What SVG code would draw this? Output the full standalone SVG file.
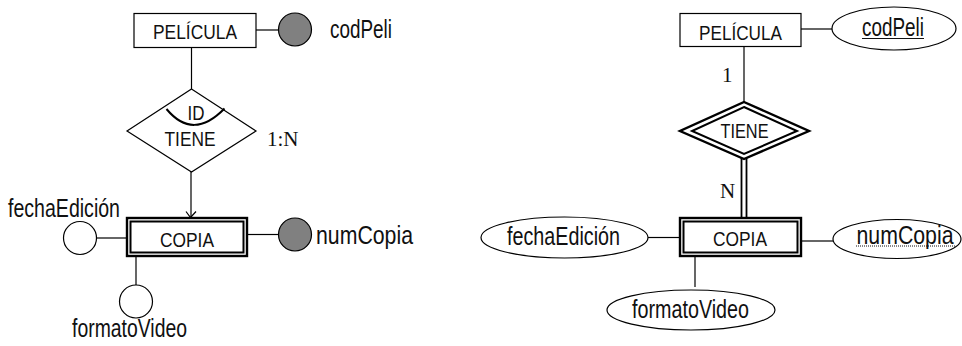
<svg xmlns="http://www.w3.org/2000/svg" width="962" height="346" viewBox="0 0 962 346">
  <style>
    .ln { stroke: #000; stroke-width: 1.2; fill: none; }
    .box { fill: #fff; stroke: #000; stroke-width: 1.2; }
    .wout { fill: #fff; stroke: #000; stroke-width: 2.4; }
    .win { fill: none; stroke: #000; stroke-width: 2; }
    .att { fill: #fff; stroke: #000; stroke-width: 1.2; }
    .key { fill: #808080; stroke: #000; stroke-width: 1.2; }
    .ent { font-family: "Liberation Sans Narrow", "Liberation Sans", Arial, sans-serif; font-size: 21px; fill: #111; }
    .lbl { font-family: "Liberation Sans Narrow", "Liberation Sans", Arial, sans-serif; font-size: 25px; fill: #111; }
    .card { font-family: "Liberation Serif", "Times New Roman", serif; font-size: 21px; fill: #111; }
    .mid { text-anchor: middle; }
  </style>

  <!-- ===== Left notation ===== -->
  <g id="connectors-left">
    <line class="ln" x1="256" y1="30" x2="278.5" y2="30"/>
    <line class="ln" x1="191.5" y1="47.5" x2="191.5" y2="89"/>
    <line class="ln" x1="191" y1="172" x2="191" y2="217"/>
    <polyline class="ln" points="186,211.5 190.5,217.5 196,211.5"/>
    <line class="ln" x1="96.5" y1="238" x2="126" y2="238"/>
    <line class="ln" x1="248" y1="234.5" x2="278.5" y2="234.5"/>
    <line class="ln" x1="136" y1="257" x2="136" y2="285"/>
  </g>

  <g id="pelicula-l">
    <rect class="box" x="134" y="13.5" width="122" height="34"/>
    <text class="ent mid" x="195" y="39" textLength="84" lengthAdjust="spacingAndGlyphs">PELÍCULA</text>
  </g>
  <g id="codpeli-l">
    <circle class="key" cx="295" cy="29.5" r="16.5"/>
    <text class="lbl" x="330" y="38" textLength="62" lengthAdjust="spacingAndGlyphs">codPeli</text>
  </g>
  <g id="tiene-l">
    <polygon class="box" points="191.5,89 256,131 191.5,172 127,131"/>
    <path d="M166.5,109 Q193,141 224.5,108.5" fill="none" stroke="#000" stroke-width="2"/>
    <text class="ent mid" x="196" y="120" textLength="17" lengthAdjust="spacingAndGlyphs">ID</text>
    <text class="ent mid" x="190" y="146" textLength="51" lengthAdjust="spacingAndGlyphs">TIENE</text>
    <text class="card" x="267" y="146">1:N</text>
  </g>
  <g id="copia-l">
    <rect class="wout" x="127" y="218" width="120" height="38"/>
    <rect class="win" x="130.5" y="221.5" width="113" height="31"/>
    <text class="ent mid" x="187" y="247" textLength="54" lengthAdjust="spacingAndGlyphs">COPIA</text>
  </g>
  <g id="fechaedicion-l">
    <circle class="att" cx="80" cy="238" r="16.5"/>
    <text class="lbl" x="8" y="217" textLength="112" lengthAdjust="spacingAndGlyphs">fechaEdición</text>
  </g>
  <g id="numcopia-l">
    <circle class="key" cx="295" cy="234.5" r="16.5"/>
    <text class="lbl" x="316" y="244" textLength="97" lengthAdjust="spacingAndGlyphs">numCopia</text>
  </g>
  <g id="formatovideo-l">
    <circle class="att" cx="136" cy="301.5" r="16.5"/>
    <text class="lbl" x="72" y="337" textLength="115" lengthAdjust="spacingAndGlyphs">formatoVideo</text>
  </g>

  <!-- ===== Right notation ===== -->
  <g id="connectors-right">
    <line class="ln" x1="801" y1="29" x2="832" y2="29"/>
    <line class="ln" x1="744" y1="46" x2="744" y2="102"/>
    <line x1="741.5" y1="157" x2="741.5" y2="217" stroke="#000" stroke-width="1.8"/>
    <line x1="746.5" y1="157" x2="746.5" y2="217" stroke="#000" stroke-width="1.8"/>
    <line class="ln" x1="648" y1="237.5" x2="679" y2="237.5"/>
    <line class="ln" x1="802" y1="241" x2="833" y2="241"/>
    <line class="ln" x1="695" y1="257" x2="695" y2="287"/>
  </g>

  <g id="pelicula-r">
    <rect class="box" x="680" y="13.5" width="121" height="33"/>
    <text class="ent mid" x="740.5" y="40" textLength="83" lengthAdjust="spacingAndGlyphs">PELÍCULA</text>
  </g>
  <g id="codpeli-r">
    <ellipse class="att" cx="894" cy="28.5" rx="62" ry="21.5"/>
    <text class="lbl mid" x="893" y="36" textLength="62" lengthAdjust="spacingAndGlyphs">codPeli</text>
    <line x1="862" y1="38.5" x2="924" y2="38.5" stroke="#111" stroke-width="1.2"/>
  </g>
  <g id="tiene-r">
    <polygon class="wout" points="744,102 809,131 744,159 680,131" stroke-width="2"/>
    <polygon class="win" points="744,107 797,131 744,154 692,131"/>
    <text class="ent mid" x="744.5" y="138" textLength="48" lengthAdjust="spacingAndGlyphs">TIENE</text>
    <text class="card" x="722" y="82">1</text>
    <text class="card" x="720" y="198">N</text>
  </g>
  <g id="copia-r">
    <rect class="wout" x="680" y="218" width="121" height="38"/>
    <rect class="win" x="683.5" y="221.5" width="114" height="31"/>
    <text class="ent mid" x="740" y="246" textLength="54" lengthAdjust="spacingAndGlyphs">COPIA</text>
  </g>
  <g id="fechaedicion-r">
    <ellipse class="att" cx="564.5" cy="237.5" rx="83.5" ry="20.5"/>
    <text class="lbl mid" x="563.5" y="245" textLength="113" lengthAdjust="spacingAndGlyphs">fechaEdición</text>
  </g>
  <g id="numcopia-r">
    <ellipse class="att" cx="897" cy="239" rx="64" ry="19.5"/>
    <text class="lbl mid" x="905" y="244" textLength="97" lengthAdjust="spacingAndGlyphs">numCopia</text>
    <line x1="856" y1="246" x2="956" y2="246" stroke="#111" stroke-width="1" stroke-dasharray="1,1"/>
  </g>
  <g id="formatovideo-r">
    <ellipse class="att" cx="691" cy="310" rx="84" ry="20"/>
    <text class="lbl mid" x="690.5" y="318" textLength="117" lengthAdjust="spacingAndGlyphs">formatoVideo</text>
  </g>
</svg>
